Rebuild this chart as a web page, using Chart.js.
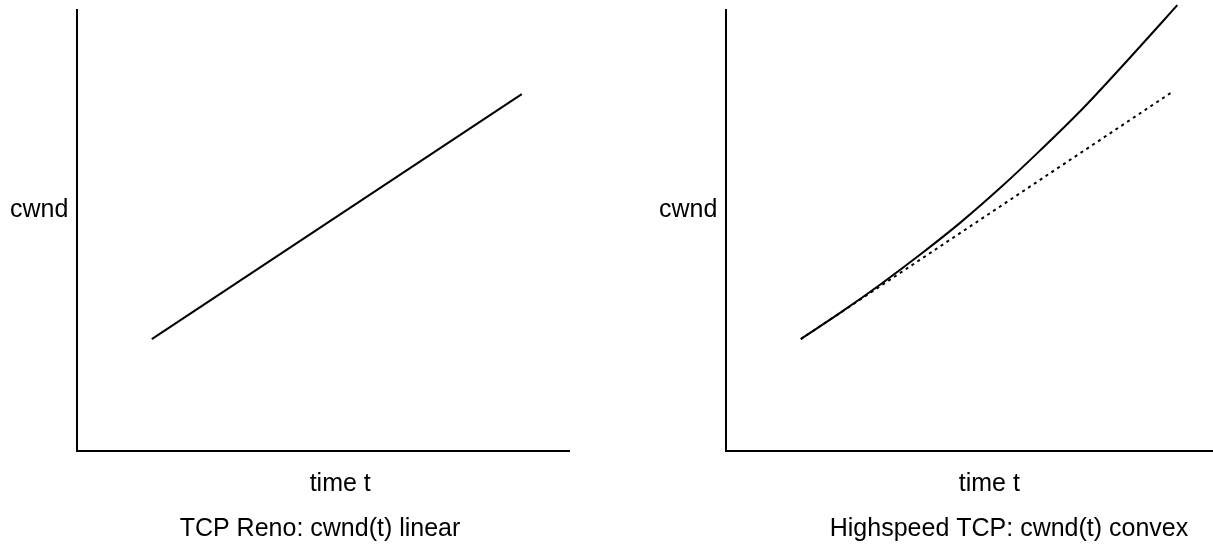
<!DOCTYPE html>
<html>
<head>
<meta charset="utf-8">
<script src="https://cdn.jsdelivr.net/npm/chart.js@4"></script>
<style>
  html, body { margin: 0; padding: 0; background: #fff; overflow: hidden; width: 1213px; height: 544px; }
  canvas { position: absolute; top: 0; }
  #renoChart { left: 0px; }
  #hsChart { left: 600px; }
</style>
</head>
<body>
<canvas id="renoChart" width="624" height="544"></canvas>
<canvas id="hsChart" width="800" height="544"></canvas>
<script>
// dati (t e cwnd in unita' arbitrarie, 100 = fine assi)
const renoT = [15.2, 90.4];
const renoCwnd = [25.3, 80.9];

const hsT = [15.2, 23.4, 31.5, 39.6, 47.8, 55.9, 64.0, 72.2, 80.3, 88.4, 91.7];
const hsCwnd = [25.3, 31.4, 37.8, 44.6, 51.9, 59.8, 68.3, 77.3, 87.0, 97.0, 101.1];

// tangente tratteggiata
const tangentT = [15.2, 90.4];
const tangentCwnd = [25.3, 81.2];

// etichette degli assi
const xTickValues = [53.5];
const xTickLabels = ['time t'];
const yTickValues = [54.6];
const yTickLabels = ['cwnd'];

const captions = ['TCP Reno: cwnd(t) linear', 'Highspeed TCP: cwnd(t) convex'];

Chart.defaults.font.family = "'Liberation Sans', Arial, sans-serif";
Chart.defaults.color = '#000';

function toPoints(xs, ys) {
    return xs.map((x, i) => ({ x: x, y: ys[i] }));
}

// pad: padding del layout, yW: larghezza asse y, xMax: fine asse x
function makeChart(id, datasets, caption, pad, yW, xMax) {
    const ctx = document.getElementById(id).getContext('2d');
    return new Chart(ctx, {
        type: 'line',
        data: { datasets: datasets },
        options: {
            responsive: false,
            animation: false,
            layout: { padding: { left: pad.left, right: pad.right, top: 10, bottom: 0 } },
            plugins: {
                legend: { display: false },
                tooltip: { enabled: false },
                title: {
                    display: true,
                    position: 'bottom',
                    text: caption,
                    color: '#000',
                    font: { size: 25, weight: 'normal', lineHeight: 1.2 },
                    padding: { top: 0, bottom: 0 }
                }
            },
            scales: {
                x: {
                    type: 'linear',
                    min: 0,
                    max: xMax,
                    grid: { display: false, drawTicks: false },
                    border: { display: true, color: '#000', width: 2 },
                    afterBuildTicks: s => { s.ticks = xTickValues.map(v => ({ value: v })); },
                    afterFit: s => { s.height = 63.5; s.paddingLeft = 0; s.paddingRight = 0; },
                    ticks: {
                        autoSkip: false,
                        maxRotation: 0,
                        padding: 19,
                        font: { size: 25 },
                        callback: (v, i) => xTickLabels[i]
                    }
                },
                y: {
                    min: 0,
                    max: 100,
                    grid: { display: false, drawTicks: false },
                    border: { display: true, color: '#000', width: 2 },
                    afterBuildTicks: s => { s.ticks = yTickValues.map(v => ({ value: v })); },
                    afterFit: s => { s.width = yW; s.paddingTop = 0; s.paddingBottom = 0; },
                    ticks: {
                        autoSkip: false,
                        mirror: true,   // cosi' l'etichetta non viene tagliata
                        padding: -67,
                        font: { size: 25 },
                        callback: (v, i) => yTickLabels[i]
                    }
                }
            }
        }
    });
}

makeChart('renoChart', [{
    data: toPoints(renoT, renoCwnd),
    borderColor: '#000',
    borderWidth: 2,
    pointRadius: 0,
    fill: false
}], captions[0], { left: 71, right: 55 }, 6, 100);

makeChart('hsChart', [{
    data: toPoints(hsT, hsCwnd),
    borderColor: '#000',
    borderWidth: 2,
    pointRadius: 0,
    cubicInterpolationMode: 'monotone',
    clip: false,
    fill: false
}, {
    data: toPoints(tangentT, tangentCwnd),
    borderColor: '#000',
    borderWidth: 2,
    borderDash: [3, 4],
    pointRadius: 0,
    fill: false
}], captions[1], { left: 126, right: 108 }, 0, 115);
</script>
</body>
</html>
